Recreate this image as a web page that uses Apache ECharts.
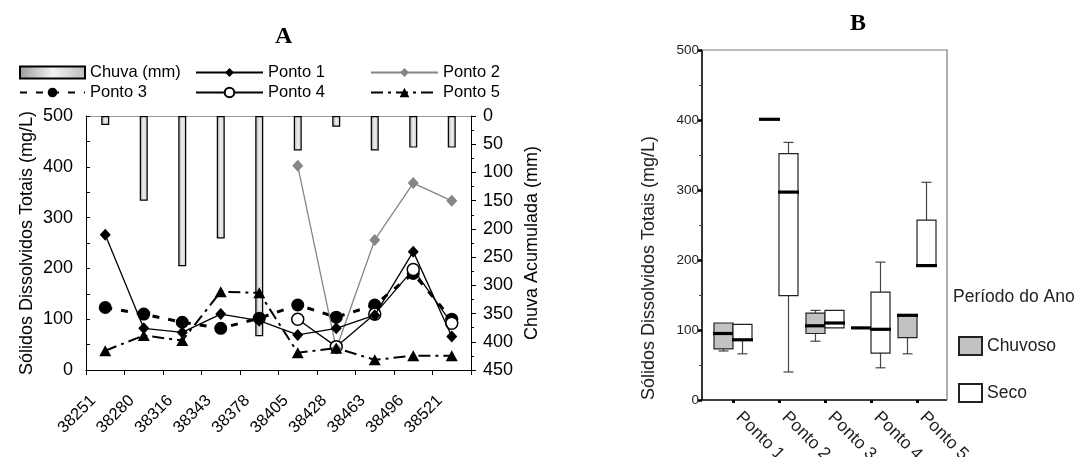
<!DOCTYPE html>
<html>
<head>
<meta charset="utf-8">
<script src="https://cdn.jsdelivr.net/npm/echarts@6/dist/echarts.min.js"></script>
<style>
html,body{margin:0;padding:0;background:#fff;}
#c{width:1078px;height:457px;}
</style>
</head>
<body>
<div id="c"></div>
<script>
// ---------- Panel A data ----------
var datesA = ['38251','38280','38316','38343','38378','38405','38428','38463','38496','38521'];
var chuva  = [16, 150, 266, 217, 390, 61, 19, 61, 56, 56];
var ponto1 = [266, 82, 74, 110, 97, 69, 82, 108, 233, 66];
var ponto2 = [null, null, null, null, null, 402, 42, 256, 368, 333];
var ponto3 = [123, 110, 94, 82, 102, 128, 104, 128, 190, 100];
var ponto4 = [null, null, null, null, null, 100, 46, 110, 198, 92];
var ponto5 = [38, 68, 58, 154, 152, 34, 43, 20, 28, 28];
var ticksLeftA = [0, 100, 200, 300, 400, 500];
var ticksRightA = [0, 50, 100, 150, 200, 250, 300, 350, 400, 450];

// ---------- Panel B data ----------
var pontosB = ['Ponto 1','Ponto 2','Ponto 3','Ponto 4','Ponto 5'];
// [min, Q1, median, Q3, max]
var chuvosoB = [
  [70, 73, 95, 110, 110],
  [401, 401, 401, 401, 401],
  [84, 95, 106, 124, 128],
  [103, 103, 103, 103, 103],
  [66, 89, 121, 122, 122]
];
var secoB = [
  [66, 86, 86, 108, 108],
  [40, 149, 297, 352, 368],
  [103, 103, 110, 128, 128],
  [46, 67, 101, 154, 197],
  [192, 192, 192, 257, 311]
];

var FONT = 'Liberation Sans, Arial, sans-serif';
var SERIF = 'Liberation Serif, Times New Roman, serif';
var chart = echarts.init(document.getElementById('c'), null, {renderer:'canvas'});

function boxData(arr){ return arr.map(function(r,i){ return [i].concat(r); }); }

function makeRender(offset, fill){
  return function(params, api){
    var cat = api.value(0);
    var mn = api.value(1), q1 = api.value(2), md = api.value(3), q3 = api.value(4), mx = api.value(5);
    var cx = api.coord([cat, md])[0] + offset;
    var hw = 9.5, cap = 5;
    var yMin = api.coord([cat, mn])[1], yQ1 = api.coord([cat, q1])[1];
    var yMd = api.coord([cat, md])[1], yQ3 = api.coord([cat, q3])[1], yMx = api.coord([cat, mx])[1];
    var ch = [];
    var ws = {stroke:'#444', lineWidth:1.2};
    if (mn < q1) {
      ch.push({type:'line', shape:{x1:cx, y1:yQ1, x2:cx, y2:yMin}, style:ws});
      ch.push({type:'line', shape:{x1:cx-cap, y1:yMin, x2:cx+cap, y2:yMin}, style:ws});
    }
    if (mx > q3) {
      ch.push({type:'line', shape:{x1:cx, y1:yQ3, x2:cx, y2:yMx}, style:ws});
      ch.push({type:'line', shape:{x1:cx-cap, y1:yMx, x2:cx+cap, y2:yMx}, style:ws});
    }
    if (q3 > q1) {
      ch.push({type:'rect', shape:{x:cx-hw, y:yQ3, width:hw*2, height:yQ1-yQ3}, style:{fill:fill, stroke:'#222', lineWidth:1.2}});
    }
    ch.push({type:'line', shape:{x1:cx-hw-1, y1:yMd, x2:cx+hw+1, y2:yMd}, style:{stroke:'#000', lineWidth:3.2}});
    return {type:'group', children:ch};
  };
}

var lblA = {fontSize:16.5, color:'#000', fontFamily:FONT};

var option = {
  animation:false,
  backgroundColor:'#fff',
  title:[
    {text:'A', left:270, top:20, textStyle:{fontFamily:SERIF, fontWeight:'bold', fontSize:24, color:'#000'}},
    {text:'B', left:845, top:7, textStyle:{fontFamily:SERIF, fontWeight:'bold', fontSize:24, color:'#000'}}
  ],
  legend:[
    {data:['Chuva (mm)'], left:14, top:59, itemWidth:65, itemHeight:12, icon:'rect', textStyle:lblA, selectedMode:false},
    {data:['Ponto 1'], left:190, top:59, itemWidth:67, itemHeight:11, textStyle:lblA, selectedMode:false},
    {data:['Ponto 2'], left:365, top:59, itemWidth:67, itemHeight:11, textStyle:lblA, selectedMode:false},
    {data:['Ponto 3'], left:14, top:79, itemWidth:65, itemHeight:12, textStyle:lblA, selectedMode:false},
    {data:['Ponto 4'], left:190, top:79, itemWidth:67, itemHeight:12, textStyle:lblA, selectedMode:false},
    {data:['Ponto 5'], left:365, top:79, itemWidth:67, itemHeight:12, textStyle:lblA, selectedMode:false},
    {data:['Chuvoso','Seco'], orient:'vertical', left:953, top:331, itemWidth:23, itemHeight:18, itemGap:27, icon:'rect',
      textStyle:{fontSize:17.5, color:'#222', fontFamily:FONT}, selectedMode:false}
  ],
  graphic:[
    {type:'text', left:953, top:288, style:{text:'Período do Ano', fontSize:17.5, fill:'#222', fontFamily:FONT}},
    {type:'polyline', shape:{points:[[702,50],[702,400],[947,400]]}, style:{stroke:'#000', lineWidth:1.6, fill:null}, z:0},
    {type:'polyline', shape:{points:[[702,50],[947,50],[947,400]]}, style:{stroke:'#777', lineWidth:1.2, fill:null}, z:0}
  ],
  grid:[
    {left:86, top:116, width:385, height:254, outerBoundsMode:'none', containLabel:false},
    {left:710, top:50, width:230, height:350, outerBoundsMode:'none', containLabel:false}
  ],
  xAxis:[
    {type:'category', gridIndex:0, data:datesA, boundaryGap:true,
      axisLine:{lineStyle:{color:'#000', width:1}},
      axisTick:{show:true, length:5, interval:0, lineStyle:{color:'#000'}},
      axisLabel:{rotate:45, interval:0, fontSize:16.5, color:'#000', fontFamily:FONT, margin:16, padding:[0,17,0,0]}},
    {type:'category', gridIndex:0, data:datesA, position:'top',
      axisLine:{lineStyle:{color:'#999', width:1}}, axisTick:{show:false}, axisLabel:{show:false}},
    {type:'category', gridIndex:1, data:pontosB, boundaryGap:true,
      axisLine:{show:false},
      axisTick:{show:true, alignWithLabel:true, length:3, lineStyle:{color:'#000', width:3}},
      axisLabel:{rotate:-45, interval:0, fontSize:17.5, color:'#222', fontFamily:FONT, margin:9, padding:[0,0,0,8]}}
  ],
  yAxis:[
    {type:'value', gridIndex:0, min:0, max:500, interval:100,
      name:'Sólidos Dissolvidos Totais (mg/L)', nameLocation:'middle', nameGap:50,
      nameTextStyle:{fontSize:18, color:'#000', fontFamily:FONT},
      axisLine:{show:true, lineStyle:{color:'#000', width:1}},
      axisTick:{show:true, inside:true, length:4, lineStyle:{color:'#000'}},
      minorTick:{show:true, splitNumber:2, length:4, lineStyle:{color:'#000'}},
      splitLine:{show:false},
      axisLabel:{fontSize:18, color:'#000', fontFamily:FONT, margin:13}},
    {type:'value', gridIndex:0, min:0, max:450, interval:50, inverse:true, position:'right',
      name:'Chuva Acumulada (mm)', nameLocation:'middle', nameGap:52, nameRotate:90,
      nameTextStyle:{fontSize:18, color:'#000', fontFamily:FONT},
      axisLine:{show:true, lineStyle:{color:'#000', width:1}},
      axisTick:{show:true, length:5, lineStyle:{color:'#000'}},
      minorTick:{show:true, splitNumber:2, length:3, lineStyle:{color:'#000'}},
      splitLine:{show:false},
      axisLabel:{fontSize:18, color:'#000', fontFamily:FONT, margin:12}},
    {type:'value', gridIndex:1, min:0, max:500, interval:100, offset:8,
      name:'Sólidos Dissolvidos Totais (mg/L)', nameLocation:'middle', nameGap:44,
      nameTextStyle:{fontSize:18, color:'#222', fontFamily:FONT, padding:[0,86,0,0]},
      axisLine:{show:false},
      axisTick:{show:true, length:4, lineStyle:{color:'#000', width:2.5}},
      minorTick:{show:true, splitNumber:2, length:3, lineStyle:{color:'#444', width:1}},
      splitLine:{show:false},
      axisLabel:{fontSize:13.5, color:'#222', fontFamily:FONT, margin:3}}
  ],
  series:[
    {name:'Chuva (mm)', type:'bar', xAxisIndex:0, yAxisIndex:1, data:chuva, barWidth:8, z:1,
      itemStyle:{borderColor:'#000', borderWidth:1.2,
        color:{type:'linear', x:0, y:0, x2:1, y2:0, colorStops:[{offset:0, color:'#9a9a9a'},{offset:0.5, color:'#f2f2f2'},{offset:1, color:'#bdbdbd'}]}}},
    {name:'Ponto 3', type:'line', xAxisIndex:0, yAxisIndex:0, data:ponto3, z:3,
      symbol:'circle', symbolSize:13, itemStyle:{color:'#000'},
      lineStyle:{color:'#000', width:3, type:[7,9]}},
    {name:'Ponto 4', type:'line', xAxisIndex:0, yAxisIndex:0, data:ponto4, z:4,
      symbol:'circle', symbolSize:12, itemStyle:{color:'#fff', borderColor:'#000', borderWidth:1.5},
      lineStyle:{color:'#000', width:1.3}},
    {name:'Ponto 2', type:'line', xAxisIndex:0, yAxisIndex:0, data:ponto2, z:4,
      symbol:'diamond', symbolSize:[11,12], itemStyle:{color:'#858585'},
      lineStyle:{color:'#858585', width:1.3}},
    {name:'Ponto 1', type:'line', xAxisIndex:0, yAxisIndex:0, data:ponto1, z:5,
      symbol:'diamond', symbolSize:[11,12], itemStyle:{color:'#000'},
      lineStyle:{color:'#000', width:1.3}},
    {name:'Ponto 5', type:'line', xAxisIndex:0, yAxisIndex:0, data:ponto5, z:5,
      symbol:'triangle', symbolSize:[12,11], itemStyle:{color:'#000'},
      lineStyle:{color:'#000', width:2, type:[12,5,3,5]}},
    {name:'Chuvoso', type:'custom', xAxisIndex:2, yAxisIndex:2, data:boxData(chuvosoB),
      encode:{x:0, y:[1,2,3,4,5]}, renderItem:makeRender(-9.5, '#c2c2c2'),
      itemStyle:{color:'#c2c2c2', borderColor:'#222', borderWidth:1.2}},
    {name:'Seco', type:'custom', xAxisIndex:2, yAxisIndex:2, data:boxData(secoB),
      encode:{x:0, y:[1,2,3,4,5]}, renderItem:makeRender(9.5, '#fff'),
      itemStyle:{color:'#fff', borderColor:'#222', borderWidth:1.2}}
  ]
};
chart.setOption(option);
</script>
</body>
</html>
